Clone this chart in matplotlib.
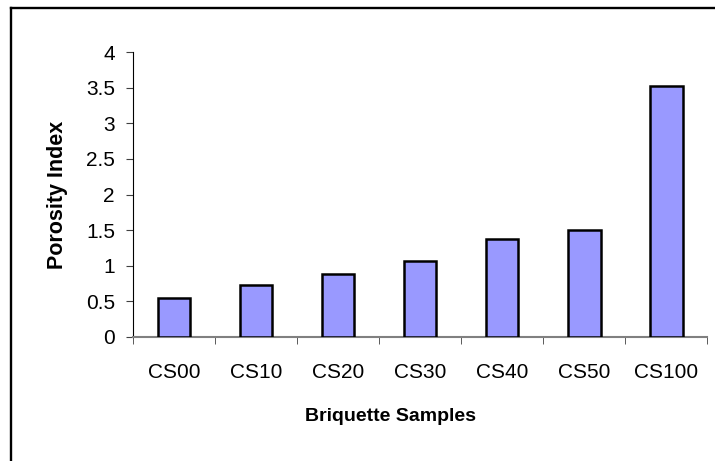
import matplotlib
matplotlib.use('Agg')
import matplotlib.pyplot as plt
from matplotlib.lines import Line2D
import numpy as np

plt.rcParams['font.family'] = ['Liberation Sans', 'DejaVu Sans']

samples = ['CS00', 'CS10', 'CS20', 'CS30', 'CS40', 'CS50', 'CS100']
porosity = [0.55, 0.73, 0.88, 1.07, 1.37, 1.50, 3.52]
yticks = [0, 0.5, 1, 1.5, 2, 2.5, 3, 3.5, 4]
ytick_labels = ['0', '0.5', '1', '1.5', '2', '2.5', '3', '3.5', '4']

fig = plt.figure(figsize=(7.15, 4.61), dpi=100)
ax = fig.add_axes([0.186, 0.2696, 0.803, 0.6169])

x = np.arange(len(samples))
ax.bar(x, porosity, width=0.4, color='#9999FF', edgecolor='black', linewidth=1.8, zorder=3)

ax.set_xlim(-0.5, len(samples) - 0.5)
ax.set_ylim(0, 4)
ax.set_yticks(yticks)
ax.set_yticklabels(ytick_labels, fontsize=15)
ax.set_xticks(x)
ax.set_xticklabels(samples, fontsize=15)
ax.set_xticks(np.arange(len(samples) + 1) - 0.5, minor=True)

ax.tick_params(axis='x', which='major', length=0, pad=19)
ax.tick_params(axis='x', which='minor', length=5, color='#404040', direction='out')
ax.tick_params(axis='y', length=5, color='#404040', direction='out', pad=8)

for s in ['top', 'right']:
    ax.spines[s].set_visible(False)
ax.spines['left'].set_color('black')
ax.spines['bottom'].set_color('#808080')
ax.spines['bottom'].set_linewidth(1.5)

ax.set_ylabel('Porosity Index', fontsize=15.5, fontweight='bold', labelpad=13)
ax.set_xlabel('Briquette Samples', fontsize=14, fontweight='bold')
ax.xaxis.set_label_coords(0.449, -0.25)

# outer chart-area border (left and top visible)
fig.add_artist(Line2D([11.5 / 715, 11.5 / 715], [0, 1 - 8.5 / 461], transform=fig.transFigure,
                      color='black', linewidth=1.7))
fig.add_artist(Line2D([11.5 / 715, 1], [1 - 8.5 / 461, 1 - 8.5 / 461], transform=fig.transFigure,
                      color='black', linewidth=1.7))

fig.savefig('out.png', dpi=100)
